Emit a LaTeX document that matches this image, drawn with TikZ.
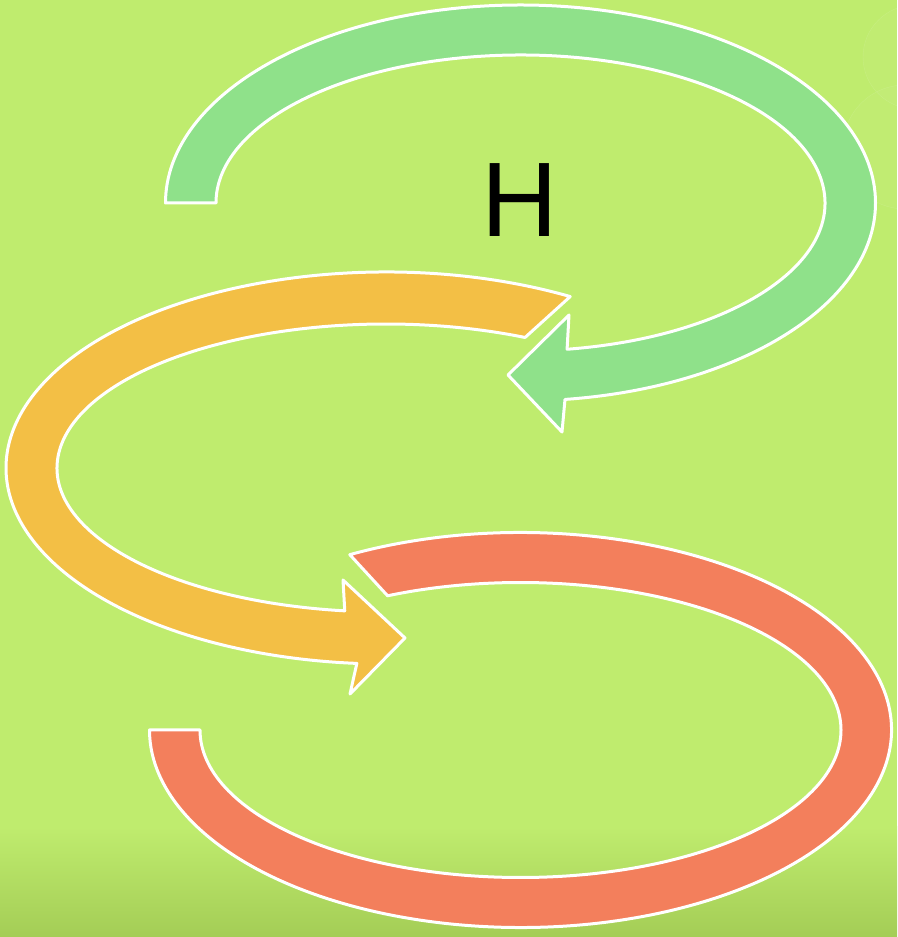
\documentclass[tikz,border=0pt]{standalone}
\usepackage{fontspec}
\setmainfont{Liberation Sans}
\definecolor{bggreen}{RGB}{191,236,110}
\definecolor{bgdark}{RGB}{164,205,86}
\definecolor{arrgreen}{RGB}{143,225,138}
\definecolor{arrorange}{RGB}{243,191,69}
\definecolor{arrred}{RGB}{243,127,92}

\begin{document}
\begin{tikzpicture}[x=1pt, y=1pt, line join=round,
    band/.style={draw=white, line width=3pt}]
    \useasboundingbox (0,0) rectangle (897,937);
    \clip (0,0) rectangle (897,937);
    % Background
    \fill[bggreen] (0,0) rectangle (897,937);
    \shade[top color=bggreen, bottom color=bgdark] (0,0) rectangle (897,110);
    \draw[white, opacity=0.12, fill=white, fill opacity=0.03] (915,880) circle (52);
    \draw[white, opacity=0.12, fill=white, fill opacity=0.03] (905,790) circle (62);
    % Centres of the three loops
    \coordinate (gc) at (520.5,734);
    \coordinate (oc) at (386,469);
    \coordinate (rc) at (520.5,207);
    % Green arrow
    \draw[band, fill=arrgreen] ([shift={(gc)}]180:355 and 198)
        arc[start angle=180, end angle=-82.8, x radius=355, y radius=198]
        -- (562,505) -- (508,562) -- (569,622)
        -- ([shift={(gc)}]-81.2:304.5 and 148)
        arc[start angle=-81.2, end angle=180, x radius=304.5, y radius=148] -- cycle;
    % Orange arrow
    \draw[band, fill=arrorange] ([shift={(oc)}]61:380 and 196)
        arc[start angle=61, end angle=265.6, x radius=380, y radius=196]
        -- (350,243) -- (405,299) -- (343,357)
        -- ([shift={(oc)}]262.8:329 and 144)
        arc[start angle=262.8, end angle=65, x radius=329, y radius=144] -- cycle;
    % Red arrow
    \draw[band, fill=arrred] ([shift={(rc)}]117.4:371 and 197.5)
        arc[start angle=117.4, end angle=-180, x radius=371, y radius=197.5]
        -- ([shift={(rc)}]180:320.5 and 147.5)
        arc[start angle=-180, end angle=114.5, x radius=320.5, y radius=147.5] -- cycle;
    % Label
    \node[font=\fontsize{106}{110}\selectfont, anchor=base, inner sep=0pt] (hlabel) at (520,700) {H};
\end{tikzpicture}
\end{document}
